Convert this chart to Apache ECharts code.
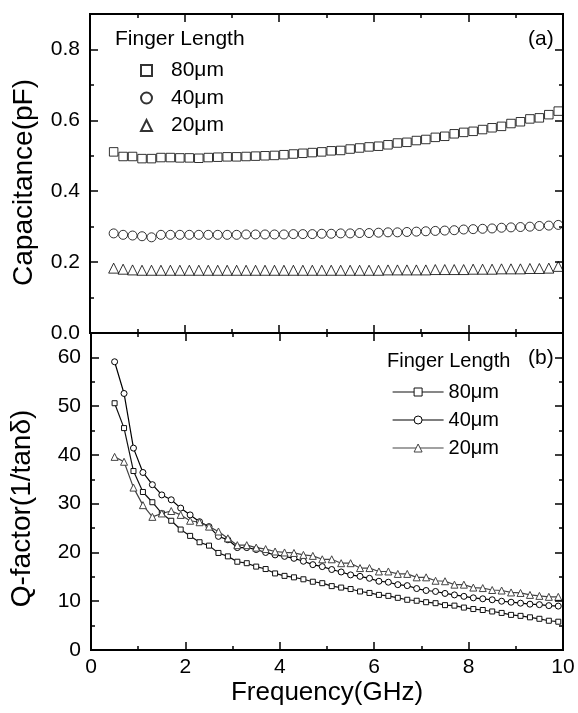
<!DOCTYPE html>
<html>
<head>
<meta charset="utf-8">
<script src="https://cdn.jsdelivr.net/npm/echarts@6/dist/echarts.min.js"></script>
<style>
html,body{margin:0;padding:0;background:#fff;}
#chart{width:578px;height:713px;}
</style>
</head>
<body>
<div id="chart"></div>
<script>
// Frequency (GHz)
var freq = [0.5,0.7,0.9,1.1,1.3,1.5,1.7,1.9,2.1,2.3,2.5,2.7,2.9,3.1,3.3,3.5,3.7,3.9,4.1,4.3,4.5,4.7,4.9,5.1,5.3,5.5,5.7,5.9,6.1,6.3,6.5,6.7,6.9,7.1,7.3,7.5,7.7,7.9,8.1,8.3,8.5,8.7,8.9,9.1,9.3,9.5,9.7,9.9];

// Panel (a): Capacitance (pF)
var cap80 = [0.511,0.498,0.498,0.492,0.492,0.495,0.495,0.494,0.494,0.493,0.495,0.496,0.497,0.497,0.498,0.499,0.500,0.501,0.503,0.505,0.507,0.509,0.511,0.514,0.515,0.519,0.522,0.525,0.527,0.531,0.536,0.538,0.543,0.546,0.552,0.555,0.562,0.566,0.569,0.574,0.579,0.583,0.591,0.596,0.604,0.607,0.616,0.626];
var cap40 = [0.281,0.277,0.275,0.273,0.270,0.277,0.277,0.277,0.277,0.277,0.277,0.277,0.277,0.277,0.278,0.278,0.278,0.278,0.278,0.279,0.279,0.279,0.280,0.280,0.281,0.281,0.282,0.282,0.283,0.284,0.284,0.285,0.286,0.287,0.288,0.289,0.290,0.292,0.293,0.294,0.295,0.297,0.298,0.299,0.300,0.302,0.303,0.305];
var cap20 = [0.183,0.180,0.178,0.177,0.177,0.177,0.177,0.177,0.177,0.177,0.177,0.177,0.177,0.177,0.177,0.177,0.177,0.177,0.177,0.177,0.177,0.177,0.177,0.177,0.177,0.177,0.177,0.177,0.177,0.178,0.178,0.178,0.178,0.178,0.179,0.179,0.179,0.179,0.180,0.180,0.180,0.181,0.181,0.181,0.182,0.182,0.183,0.188];

// Panel (b): Q-factor (1/tan delta)
var q80 = [50.6,45.5,36.7,32.4,30.3,28.0,26.5,24.7,23.4,22.1,21.4,19.9,19.2,18.1,17.8,17.1,16.6,15.7,15.2,14.9,14.5,14.0,13.7,13.1,12.8,12.5,12.0,11.7,11.3,11.1,10.7,10.3,10.1,9.8,9.6,9.2,9.1,8.7,8.4,8.2,7.9,7.6,7.2,7.0,6.7,6.4,6.0,5.8];
var q40 = [59.1,52.6,41.4,36.4,33.9,31.8,30.8,29.1,27.7,26.3,25.3,23.3,22.6,21.0,21.0,20.6,20.0,19.5,19.2,18.8,18.2,17.5,17.1,16.5,16.0,15.4,15.1,14.7,14.1,13.9,13.4,13.2,12.6,12.2,12.0,11.6,11.3,11.0,10.7,10.5,10.3,10.0,9.8,9.6,9.4,9.3,9.1,9.0];
var q20 = [39.6,38.6,33.3,29.7,27.3,28.0,28.5,27.7,26.5,26.2,25.3,24.3,22.9,21.5,21.5,21.0,20.7,20.2,20.0,19.9,19.5,19.3,18.6,18.6,17.8,17.8,16.8,16.8,16.1,16.1,15.6,15.6,14.9,14.9,14.2,14.1,13.4,13.4,12.8,12.7,12.3,12.2,11.8,11.7,11.3,11.1,10.9,10.9];

// Labels
var legendTitle = 'Finger Length';
var seriesLabels = {a80:'80\u03bcm', a40:'40\u03bcm', a20:'20\u03bcm', b80:'80\u03bcm', b40:'40\u03bcm', b20:'20\u03bcm'};
var xName = 'Frequency(GHz)';
var yNameA = 'Capacitance(pF)';
var yNameB = 'Q-factor(1/tan\u03b4)';

var FONT = 'Liberation Sans, Arial, Helvetica, sans-serif';

function pairs(xs, ys){ return xs.map(function(x,i){ return [x, ys[i]]; }); }

function axis(grid, pos, min, max, interval, tickLen, opts){
  opts = opts || {};
  var a = {
    type:'value', gridIndex:grid, position:pos, min:min, max:max, interval:interval,
    axisLine:{show:true, onZero:false, lineStyle:{color:'#000', width:2}},
    axisTick:{show:true, inside:true, length:tickLen, lineStyle:{color:'#000', width:1.5}},
    splitLine:{show:false},
    axisLabel:{show:!!opts.labels, color:'#000', fontFamily:FONT, fontSize:21, margin:opts.margin||10,
      showMaxLabel:opts.showMax===undefined?true:opts.showMax, formatter:opts.formatter},
    z: 5
  };
  if (opts.name){
    a.name = opts.name; a.nameLocation='middle'; a.nameGap = opts.nameGap;
    a.nameTextStyle = {color:'#000', fontFamily:FONT, fontSize:opts.nameSize, padding:opts.namePad||0};
  }
  return a;
}

var xAxes = [
  axis(0,'bottom',0,10,2,8),
  axis(0,'bottom',0,10,1,4),
  axis(0,'top',0,10,2,8),
  axis(0,'top',0,10,1,4),
  axis(1,'bottom',0,10,2,8,{labels:true, margin:7, name:xName, nameGap:30, nameSize:26}),
  axis(1,'bottom',0,10,1,4),
  axis(1,'top',0,10,2,8),
  axis(1,'top',0,10,1,4)
];
var yAxes = [
  axis(0,'left',0,0.9,0.2,8,{labels:true, showMax:false, formatter:function(v){return v.toFixed(1);}, name:yNameA, nameGap:52, nameSize:28, namePad:[0,18,0,0]}),
  axis(0,'left',0,0.9,0.1,4),
  axis(0,'right',0,0.9,0.2,8),
  axis(0,'right',0,0.9,0.1,4),
  axis(1,'left',0,65,10,8,{labels:true, showMax:false, name:yNameB, nameGap:55, nameSize:28, namePad:[0,34,0,0]}),
  axis(1,'left',0,65,5,4),
  axis(1,'right',0,65,10,8),
  axis(1,'right',0,65,5,4)
];

function scatterSeries(name, sym, size, ys){
  return {
    name:name, type:'scatter', xAxisIndex:0, yAxisIndex:0,
    symbol:sym, symbolSize:size, data:pairs(freq, ys),
    itemStyle:{color:'#fff', borderColor:'#000', borderWidth:1},
    emphasis:{disabled:true}, z:3
  };
}
function lineSeries(name, sym, size, ys, lc){
  return {
    name:name, type:'line', xAxisIndex:4, yAxisIndex:4,
    symbol:sym, symbolSize:size, showAllSymbol:true, data:pairs(freq, ys),
    lineStyle:{color:lc, width:1.2},
    itemStyle:{color:'#fff', borderColor:lc, borderWidth:1},
    emphasis:{disabled:true}, z:3
  };
}

var option = {
  animation:false,
  backgroundColor:'#fff',
  grid:[
    {left:90, top:14, width:473, height:319},
    {left:90, top:333, width:473, height:317}
  ],
  xAxis:xAxes,
  yAxis:yAxes,
  legend:[
    {data:['a80','a40','a20'], orient:'vertical', left:135, top:55, itemWidth:11, itemHeight:11, itemGap:6.5,
     selectedMode:false, formatter:function(n){return seriesLabels[n];},
     textStyle:{color:'#000', fontFamily:FONT, fontSize:21, lineHeight:21, padding:[0,0,0,14]}},
    {data:['b80','b40','b20'], orient:'vertical', left:387, top:377, itemWidth:51, itemHeight:10, itemGap:8,
     selectedMode:false, formatter:function(n){return seriesLabels[n];},
     lineStyle:{width:1.2}, itemStyle:{borderWidth:1},
     textStyle:{color:'#000', fontFamily:FONT, fontSize:20, lineHeight:20}}
  ],
  graphic:[
    {type:'text', left:115, top:29, style:{text:legendTitle, fill:'#000', font:'21px '+FONT}},
    {type:'text', left:528, top:29, style:{text:'(a)', fill:'#000', font:'21px '+FONT}},
    {type:'text', left:387, top:351, style:{text:legendTitle, fill:'#000', font:'20px '+FONT}},
    {type:'text', left:528, top:348, style:{text:'(b)', fill:'#000', font:'21px '+FONT}}
  ],
  series:[
    scatterSeries('a80','rect',8.5,cap80),
    scatterSeries('a40','circle',9,cap40),
    scatterSeries('a20','triangle',10,cap20),
    lineSeries('b80','rect',5,q80,'#111'),
    lineSeries('b40','circle',6,q40,'#000'),
    lineSeries('b20','triangle',7,q20,'#444')
  ]
};

var chart = echarts.init(document.getElementById('chart'), null, {renderer:'canvas'});
chart.setOption(option);
</script>
</body>
</html>
